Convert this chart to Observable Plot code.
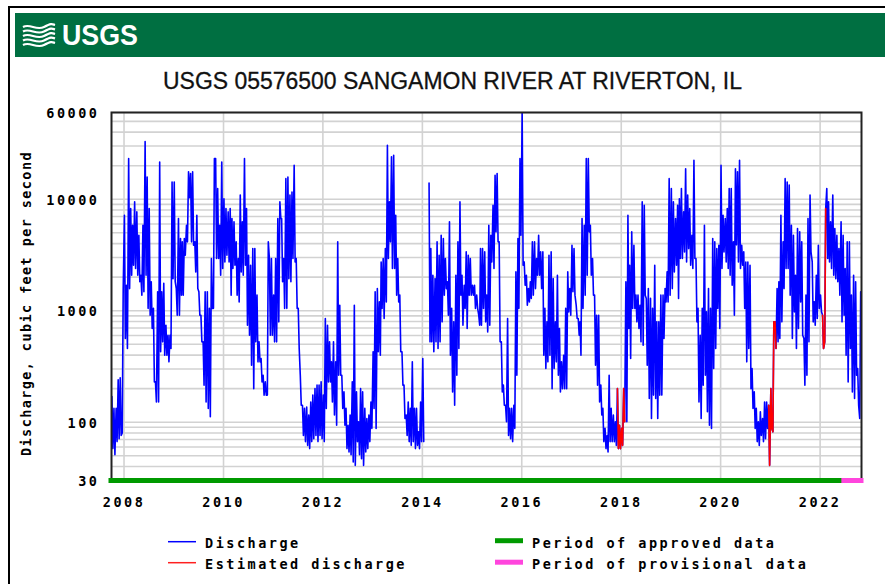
<!DOCTYPE html>
<html>
<head>
<meta charset="utf-8">
<script src="https://cdn.jsdelivr.net/npm/d3@7"></script>
<script src="https://cdn.jsdelivr.net/npm/@observablehq/plot@0.6"></script>
<style>
  html, body { margin: 0; padding: 0; background: #fff; width: 885px; height: 584px; overflow: hidden; }
  #page { position: relative; width: 885px; height: 584px; overflow: hidden; }
  #frame { position: absolute; left: 8px; top: 6px; width: 2000px; height: 2000px;
           border-left: 2px solid #000; border-top: 2px solid #000; }
  #head { position: absolute; left: 0; top: 0; }
  #chart { position: absolute; left: 0; top: 100px; }
  #legend { position: absolute; left: 0; top: 520px; }
  .mono { font-family: "DejaVu Sans Mono", monospace; font-weight: bold; font-size: 13.5px; letter-spacing: 2.5px; }
</style>
</head>
<body>
<div id="page">
  <div id="frame"></div>
  <svg id="head" width="885" height="100">
    <rect x="15" y="13" width="880" height="44" fill="#006f41"></rect>
    <g fill="none" stroke="#fff" stroke-width="2.2">
      <path d="M23,27 C30,23 36,31 44,27 S52,24 55,25"></path>
      <path d="M23,31.5 C30,27.5 36,35.5 44,31.5 S52,28.5 55,29.5"></path>
      <path d="M23,36 C30,32 36,40 44,36 S52,33 55,34"></path>
      <path d="M23,40.5 C30,36.5 36,44.5 44,40.5 S52,37.5 55,38.5"></path>
      <path d="M23,45 C30,41 36,49 44,45 S52,42 55,43"></path>
    </g>
    <text x="62" y="45" fill="#fff" font-family="Liberation Sans, Arial, sans-serif" font-weight="bold"
          font-size="30" textLength="76" lengthAdjust="spacingAndGlyphs">USGS</text>
    <text id="title" x="452.5" y="89" text-anchor="middle" fill="#111" stroke="#111" stroke-width="0.3"
          font-family="Liberation Sans, Arial, sans-serif" font-size="23"
          textLength="579" lengthAdjust="spacingAndGlyphs"></text>
  </svg>
  <div id="chart"></div>
  <svg id="legend" width="885" height="64"></svg>
</div>
<script>
// ---------------- data ----------------
const stationTitle = "USGS 05576500 SANGAMON RIVER AT RIVERTON, IL";
const yTitle = "Discharge, cubic feet per second";

// Discharge (cfs): four readings per month (about the 4th, 11th,
// 19th and 26th, alternating between the high and low of the daily trace),
// grouped by water year (Oct - Sep). null = no data (ice).
const wy2008 = [170,58,133,51, 133,67,240,71, 250,76,80,1580, 7190,563,1690,458, 23200,1580,8250,2080, 5850,2560,9470,2390,
                7700,2080,4760,1820, 2080,1380,5850,1480, 33000,2080,15800,1050, 8250,912,1820,692, 1050,230,230,152, 1480,152,21600,428];
const wy2009 = [1480,526,1760,399, 742,399,603,348, 603,458,14300,1940, 14300,1820,1580,912, 6710,912,4440,1380, 4150,1380,4440,3150,
                5850,4150,17600,10300, 17000,4150,17600,3870, 4150,2230,7190,1580, 1480,912,912,526, 526,215,1480,152, 1480,133,1050,112];
const wy2010 = [2940,1050,1050,23200, 23200,2940,12500,2940, 5850,2080,21600,2390, 10100,2740,8250,3150, 7700,2740,8250,1380, 6710,2390,6270,2560,
                4150,1380,2940,1200, 10900,2230,6270,2080, 23200,2560,8250,742, 3150,603,2560,325, 3610,200,3610,526, 1380,348,526,348];
const wy2011 = [373,230,264,175, 230,175,175,4150, 2940,603,2940,603, 1380,526,2940,526, 6710,795,9470,6710, 6710,1820,2940,1050,
                15300,1050,15800,1940, 10900,1820,11600,2940, 20200,2740,2940,1050, 1050,458,264,142, 142,76,133,67, 137,62,116,58];
const wy2012 = [152,67,175,71, 200,76,215,67, 215,76,230,71, 175,67,851,133, 742,230,526,230, 348,152,526,116,
                348,94,4150,264, 1120,264,264,133, 187,94,133,58, 94,54,116,51, 230,44,1120,41, 187,67,101,51];
const wy2013 = [200,47,187,41, 133,54,108,58, 116,67,152,88, 428,133,1480,88, 1580,428,1200,399, 2740,1050,2940,851,
                3610,1200,30500,2940, 9470,4150,24000,2390, 24800,2390,7190,1380, 2940,1200,1380,428, 428,215,215,108, 116,76,152,67];
const wy2014 = [133,62,348,67, 133,58,133,62, 82,58,152,67, 373,67,null,null, null,null,14000,526, 3610,526,2080,428,
                1940,526,4150,458, 3150,526,4760,795, 4440,1380,2940,1580, 1820,912,6270,399, 1050,187,795,142, 2080,264,4150,458];
const wy2015 = [9470,1380,2080,742, 1690,1050,3370,692, 3150,1380,2940,1380, 1690,1380,1690,1050, 1380,1050,912,742, 3610,742,3610,1050,
                3370,795,1380,646, 5850,742,4760,2740, 8840,2390,16400,5100, 17000,4150,4150,526, 526,187,215,142, 142,101,851,76];
const wy2016 = [133,71,133,67, 142,88,2230,264, 4440,1050,23200,4760, 59000,2560,2740,1690, 2080,1120,1580,1200, 1820,1290,4150,1380,
                4150,1580,2940,2080, 4760,2080,3370,1580, 3370,399,1050,303, 795,348,3150,399, 3370,200,1940,303, 795,348,2080,264];
const wy2017 = [692,187,348,200, 399,200,1050,200, 2230,977,1580,912, 3870,1480,3610,1380, 1120,851,851,603, 795,399,6710,1050,
                5850,1380,23200,2080, 23200,5100,5850,2080, 2940,1380,1380,325, 912,215,912,152, 215,116,133,67, 88,58,76,54];
const wy2018 = [264,67,133,67, 116,67,101,62, 200,58,94,58, 88,62,200,101, 1820,101,7190,692, 2560,373,5100,1050,
                3870,1050,1380,795, 1380,692,1120,526, 9470,491,8840,1380, 1290,325,1580,163, 1290,108,1050,175, 2560,163,795,108];
const wy2019 = [795,175,1380,175, 1380,563,1580,1200, 2230,1200,15300,1380, 12500,1580,9470,2230, 6710,2560,8840,1290, 10100,2940,12500,2940,
                7700,3370,18800,2740, 10900,3610,8250,2560, 4760,2390,22400,2940, 2940,795,1050,152, 603,108,1050,215, 5850,264,977,124];
const wy2020 = [1580,94,1050,88, 4440,303,4150,458, 3610,1050,3870,692, 20200,2390,7190,3370, 6710,2740,8250,2390, 12500,2080,12500,1690,
                4150,912,18800,3900, 17600,2740,22400,2390, 3870,2560,3370,1050, 2740,348,2740,458, 2560,200,303,133, 187,88,133,67];
const wy2021 = [101,62,124,76, 108,67,152,71, 152,88,142,41, 200,88,82,795, 795,458,1580,526, 1820,563,7190,795,
                4150,1580,15300,2390, 14300,2390,13400,1380, 5850,563,4760,977, 2080,458,5460,692, 5100,1200,4150,603, 563,215,1380,264];
const wy2022 = [6710,526,10900,3370, 2740,795,1200,742, 2080,851,3870,1050, 1380,977,912,458, 526,8250,12500,2940, 9470,2740,6270,2390,
                10900,2080,5460,1940, 4760,1820,3610,1380, 6270,795,4760,912, 2390,399,4150,230, 4150,458,1380,187, 2080,163,1820,264];
const wy2023 = [303,142,108,1480];

const firstMonth = "2007-10-01";
const readingDays = [4, 11, 19, 26];
const estimatedPeriods = [["2017-12-01", "2018-01-28"], ["2020-12-15", "2021-02-12"], ["2022-01-15", "2022-02-12"]];
const dataPeriods = [
  {label: "Period of approved data", start: "2007-10-01", end: "2022-06-28", color: "#009a00"},
  {label: "Period of provisional data", start: "2022-06-28", end: "2022-11-01", color: "#ff45dd"}
];
const xDomain = ["2007-10-01", "2022-11-01"];
const yDomain = [30, 60000];
const yearLabels = [2008, 2010, 2012, 2014, 2016, 2018, 2020, 2022];
const flowLabels = [30, 100, 1000, 10000, 60000];
const flowGrid = [30,40,50,60,70,80,90,100,200,300,400,500,600,700,800,900,
                  1000,2000,3000,4000,5000,6000,7000,8000,9000,
                  10000,20000,30000,40000,50000,60000];
const legendItems = [
  {label: "Discharge", color: "#0000ff", width: 1.5},
  {label: "Estimated discharge", color: "#ff2020", width: 1.5},
  {label: "Period of approved data", color: "#009a00", width: 5},
  {label: "Period of provisional data", color: "#ff45dd", width: 5}
];

// ---------------- build ----------------
const flows = [wy2008, wy2009, wy2010, wy2011, wy2012, wy2013, wy2014, wy2015,
               wy2016, wy2017, wy2018, wy2019, wy2020, wy2021, wy2022, wy2023].flat();
const start = new Date(firstMonth);
const rows = flows.map((v, i) => ({
  date: d3.utcDay.offset(d3.utcMonth.offset(start, Math.floor(i / 4)), readingDays[i % 4] - 1),
  flow: v
}));
const est = estimatedPeriods.map(([a, b]) => [new Date(a), new Date(b)]);
const isEst = d => est.some(([a, b]) => d.date >= a && d.date <= b);
const periods = dataPeriods.map(p => ({...p, start: new Date(p.start), end: new Date(p.end)}));
const yearTicks = yearLabels.map(y => new Date(Date.UTC(y, 0, 1)));

document.getElementById("title").textContent = stationTitle;

const chart = Plot.plot({
  width: 885,
  height: 420,
  marginLeft: 111,
  marginRight: 24,
  marginTop: 12,
  marginBottom: 40,
  style: {
    fontFamily: '"DejaVu Sans Mono", monospace',
    fontWeight: "bold",
    fontSize: "13.5px",
    letterSpacing: "2.5px",
    color: "#000",
    background: "transparent",
    overflow: "visible"
  },
  x: {type: "utc", domain: xDomain.map(d => new Date(d))},
  y: {type: "log", domain: yDomain, axis: null},
  marks: [
    Plot.ruleY(flowGrid, {stroke: "#d2d2d2", strokeWidth: 1.6}),
    Plot.ruleX(yearTicks, {stroke: "#d2d2d2", strokeWidth: 1.6}),
    Plot.lineY(rows, {x: "date", y: "flow", stroke: "#0000ff", strokeWidth: 1.6}),
    Plot.lineY(rows, {x: "date", y: d => (isEst(d) ? d.flow : NaN), stroke: "#ff0000", strokeWidth: 1.6}),
    Plot.frame({stroke: "#222", strokeWidth: 2}),
    Plot.ruleY(periods, {y: () => 30, x1: "start", x2: "end", stroke: "color", strokeWidth: 5, strokeLinecap: "square"}),
    Plot.text(flowLabels, {y: d => d, text: d => String(d), frameAnchor: "left", textAnchor: "end", dx: -12, dy: 1, fill: "#000"}),
    Plot.axisX({ticks: yearTicks, tickFormat: "%Y", tickSize: 0, tickPadding: 17, label: null, fill: "#000"}),
    Plot.text([yTitle], {text: d => d, frameAnchor: "left", textAnchor: "middle", rotate: -90, dx: -85, dy: 7, fill: "#000"})
  ]
});
d3.select(chart).selectAll("text").filter(function () { return this.textContent === yTitle; }).style("letter-spacing", "1.4px");
document.getElementById("chart").appendChild(chart);

// ---------------- legend ----------------
const leg = d3.select("#legend");
const legPos = [[168, 205, 21.7, 27.5], [168, 205, 42.7, 48.5], [495, 532, 20.7, 27.5], [495, 532, 42.2, 48.5]];
legendItems.forEach((it, i) => {
  const [x0, tx, ly, ty] = legPos[i];
  leg.append("line").attr("x1", x0).attr("x2", x0 + 28).attr("y1", ly).attr("y2", ly)
     .attr("stroke", it.color).attr("stroke-width", it.width);
  leg.append("text").attr("class", "mono").attr("x", tx).attr("y", ty).attr("fill", "#000").text(it.label);
});
</script>
</body>
</html>
